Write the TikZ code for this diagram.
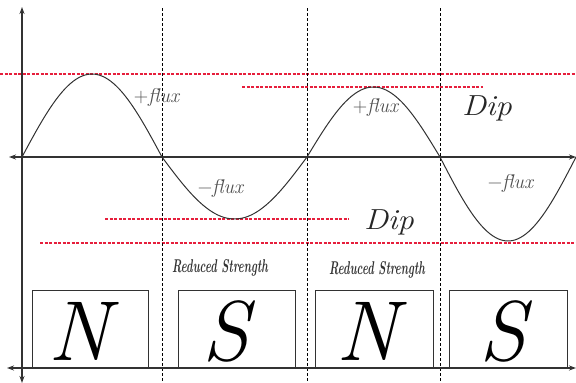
\documentclass[tikz,border=0pt]{standalone}
\usepackage{fontspec}
\setmainfont{Latin Modern Roman}
\usepackage{graphicx}
\usetikzlibrary{arrows.meta}
\definecolor{axisgray}{RGB}{50,50,50}
\definecolor{dipred}{RGB}{230,30,60}
\definecolor{fluxgray}{RGB}{80,80,80}
\begin{document}
\begin{tikzpicture}[x=1pt,y=-1pt,
  axis/.style={draw=axisgray, line width=1.2pt},
  tipboth/.style={{Stealth[length=7pt,width=5pt]}-{Stealth[length=7pt,width=5pt]}},
  sep/.style={draw=black, line width=0.8pt, dash pattern=on 3pt off 2pt},
  dipline/.style={draw=dipred, line width=1.2pt, dash pattern=on 3pt off 1.5pt},
  wave/.style={draw=axisgray, line width=1pt},
  magnet/.style={draw=axisgray, line width=1pt, minimum height=78pt, inner sep=0pt},
  pole/.style={anchor=base, inner sep=0pt, font=\fontsize{85}{85}\selectfont\itshape},
  fluxlbl/.style={text=fluxgray, font=\fontsize{20}{20}\selectfont, inner sep=0pt},
  diplbl/.style={text=black!85, font=\fontsize{29}{29}\selectfont\itshape, inner sep=0pt},
  redlbl/.style={text=black!80, inner sep=0pt}]
\useasboundingbox (0,0) rectangle (576,383);

% magnets
\node[magnet, minimum width=116pt] (n1) at (90,329) {};
\node[magnet, minimum width=117pt] (s1) at (236.5,329) {};
\node[magnet, minimum width=118pt] (n2) at (374,329) {};
\node[magnet, minimum width=118pt] (s2) at (508,329) {};
\node[pole] (n1l) at (79,360) {N};
\node[pole] (s1l) at (225.5,360) {S};
\node[pole] (n2l) at (367,360) {N};
\node[pole] (s2l) at (502.5,360) {S};

% red reference lines
\draw[dipline] (0,74) -- (576,74);
\draw[dipline] (242,87) -- (483,87);
\draw[dipline] (105,219) -- (349,219);
\draw[dipline] (40,243) -- (576,243);

% separators
\foreach \xx in {162,307,440}
  \draw[sep] (\xx,8) -- (\xx,383);

% axes
\coordinate (vtop) at (22,7);
\coordinate (vbot) at (22,383);
\coordinate (mleft) at (9,157);
\coordinate (mright) at (576,157);
\coordinate (bleft) at (7,368);
\coordinate (bright) at (576,368);
\draw[axis, tipboth] (vbot) -- (vtop);
\draw[axis, tipboth] (mleft) -- (mright);
\draw[axis, tipboth] (bleft) -- (bright);

% flux wave
\draw[wave] plot[domain=0:180, samples=50] ({22+(\x/180)*140},{157-83*sin(\x)});
\draw[wave] plot[domain=0:180, samples=50] ({162+(\x/180)*145},{157+62*sin(\x)});
\draw[wave] plot[domain=0:180, samples=50] ({307+(\x/180)*133},{157-70*sin(\x)});
\draw[wave] plot[domain=0:180, samples=50] ({440+(\x/180)*136},{157+84*sin(\x)});

% labels
\node[fluxlbl] (pf1) at (157,97) {+\textit{flux}};
\node[fluxlbl] (pf2) at (376,107) {+\textit{flux}};
\node[fluxlbl] (mf1) at (221,188) {−\textit{flux}};
\node[fluxlbl] (mf2) at (511,183) {−\textit{flux}};
\node[diplbl] (dip1) at (487,108) {\scalebox{1.12}[1]{Dip}};
\node[diplbl] (dip2) at (389,222) {\scalebox{1.12}[1]{Dip}};
\node[redlbl] (rs1) at (220,268) {\resizebox{96pt}{13pt}{\bfseries\itshape Reduced Strength}};
\node[redlbl] (rs2) at (377,270) {\resizebox{96pt}{13pt}{\bfseries\itshape Reduced Strength}};
\end{tikzpicture}
\end{document}
